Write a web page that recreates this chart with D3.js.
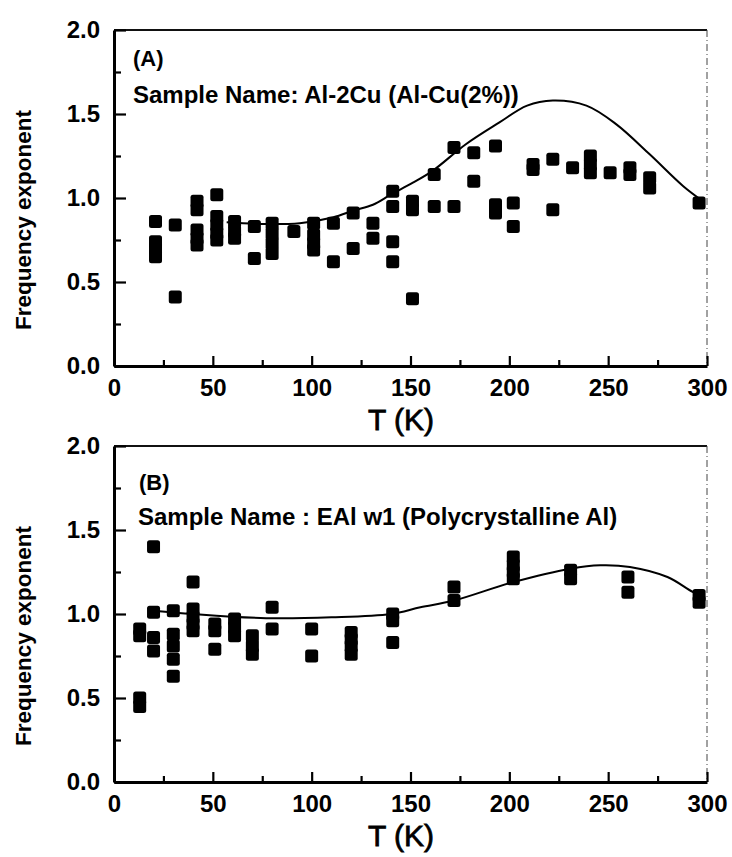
<!DOCTYPE html>
<html>
<head>
<meta charset="utf-8">
<script src="https://cdn.jsdelivr.net/npm/d3@7/dist/d3.min.js"></script>
<style>
  html, body { margin: 0; padding: 0; background: #fff; }
  svg { display: block; }
  text { font-family: "Liberation Sans", Arial, sans-serif; fill: #000; }
</style>
</head>
<body>
<svg id="chart" width="732" height="857"></svg>
<script>
// ---- Panel A: Al-2Cu ----
const tempA = [21,21,21,21, 31,31, 42,42,42,42,42, 52,52,52,52,52, 61,61,61, 71,71,
  80,80,80,80, 91, 101,101,101,101, 111,111, 121,121, 131,131, 141,141,141,141,
  151,151,151, 162,162, 172,172, 182,182, 193,193,193, 202,202, 212,212, 222,222,
  232, 241,241,241, 251, 261,261, 271,271, 296];
const expA = [0.86,0.74,0.70,0.65, 0.84,0.41, 0.98,0.93,0.81,0.76,0.72, 1.02,0.89,0.84,0.79,0.75,
  0.86,0.80,0.76, 0.83,0.64, 0.85,0.79,0.73,0.67, 0.80, 0.85,0.78,0.73,0.69, 0.85,0.62,
  0.91,0.70, 0.85,0.76, 1.04,0.95,0.74,0.62, 0.98,0.93,0.40, 1.14,0.95, 1.30,0.95,
  1.27,1.10, 1.31,0.96,0.91, 0.97,0.83, 1.20,1.17, 1.23,0.93, 1.18, 1.25,1.20,1.15,
  1.15, 1.18,1.14, 1.12,1.06, 0.97];
const fitTempA = [57, 75, 94, 111, 121, 131, 140, 151, 161, 178, 195, 209, 222, 239, 254, 271, 288, 298];
const fitExpA  = [0.855, 0.845, 0.85, 0.885, 0.925, 0.96, 1.02, 1.09, 1.16, 1.32, 1.45, 1.55, 1.58, 1.55, 1.44, 1.26, 1.07, 0.98];

// ---- Panel B: EAl w1 ----
const tempB = [13,13,13,13, 20,20,20,20, 30,30,30,30,30, 40,40,40,40,40, 51,51,51,
  61,61,61, 70,70,70, 80,80, 100,100, 120,120,120,120, 141,141,141,
  172,172, 202,202,202,202, 231,231, 260,260, 296,296];
const expB = [0.91,0.87,0.50,0.45, 1.40,1.01,0.86,0.78, 1.02,0.88,0.81,0.73,0.63,
  1.19,1.03,0.98,0.94,0.90, 0.94,0.90,0.79, 0.97,0.92,0.87, 0.87,0.81,0.76,
  1.04,0.91, 0.91,0.75, 0.89,0.85,0.81,0.76, 1.00,0.96,0.83,
  1.16,1.08, 1.34,1.29,1.25,1.21, 1.26,1.21, 1.22,1.13, 1.11,1.07];
const fitTempB = [20, 40, 77, 110, 140, 155, 172, 202, 231, 246, 261, 280, 293, 299];
const fitExpB  = [1.02, 1.00, 0.975, 0.98, 1.00, 1.04, 1.08, 1.19, 1.27, 1.29, 1.28, 1.22, 1.13, 1.10];

// ---- Axis ticks and labels ----
const xMajor = [0, 50, 100, 150, 200, 250, 300];
const xMinor = [25, 75, 125, 175, 225, 275];
const yMajor = [0.0, 0.5, 1.0, 1.5, 2.0];
const yMinor = [0.25, 0.75, 1.25, 1.75];
const xTitle = "T (K)";
const yTitle = "Frequency exponent";
const panelTags = ["(A)", "(B)"];
const sampleNames = ["Sample Name: Al-2Cu (Al-Cu(2%))", "Sample Name : EAl w1 (Polycrystalline Al)"];

const svg = d3.select("#chart");
const left = 114, right = 707;

const panels = [
  { top: 30, bottom: 366, T: tempA, V: expA, fT: fitTempA, fV: fitExpA,
    tag: panelTags[0], name: sampleNames[0], tagPos: [133, 66], namePos: [133, 103] },
  { top: 446, bottom: 782, T: tempB, V: expB, fT: fitTempB, fV: fitExpB,
    tag: panelTags[1], name: sampleNames[1], tagPos: [139, 490], namePos: [138, 525] }
];

panels.forEach(p => {
  const x = d3.scaleLinear().domain([0, 300]).range([left, right]);
  const y = d3.scaleLinear().domain([0, 2]).range([p.bottom, p.top]);
  const g = svg.append("g");

  // frame: top edge solid, right edge faint dash-dot
  g.append("line").attr("x1", left).attr("x2", right).attr("y1", p.top).attr("y2", p.top)
    .attr("stroke", "#111").attr("stroke-width", 2);
  g.append("line").attr("x1", right).attr("x2", right).attr("y1", p.top).attr("y2", p.bottom)
    .attr("stroke", "#444").attr("stroke-width", 1).attr("stroke-dasharray", "7,3,1,3");

  // bottom axis (ticks pointing inward)
  const xa = g.append("g").attr("transform", `translate(0,${p.bottom})`)
    .call(d3.axisBottom(x).tickValues(xMajor).tickSize(-10).tickSizeOuter(0).tickPadding(13)
      .tickFormat(d3.format("d")));
  g.append("g").attr("transform", `translate(0,${p.bottom})`)
    .call(d3.axisBottom(x).tickValues(xMinor).tickSize(-6).tickSizeOuter(0).tickFormat(""))
    .call(s => s.select(".domain").remove());

  // left axis
  const ya = g.append("g").attr("transform", `translate(${left},0)`)
    .call(d3.axisLeft(y).tickValues(yMajor).tickSize(-12).tickSizeOuter(0).tickPadding(14)
      .tickFormat(d3.format(".1f")));
  g.append("g").attr("transform", `translate(${left},0)`)
    .call(d3.axisLeft(y).tickValues(yMinor).tickSize(-7).tickSizeOuter(0).tickFormat(""))
    .call(s => s.select(".domain").remove());

  g.selectAll(".domain").attr("stroke", "#000").attr("stroke-width", 3);
  g.selectAll(".tick line").attr("stroke", "#000").attr("stroke-width", 2.2);
  [xa, ya].forEach(a => a.selectAll("text")
    .attr("font-size", 24).attr("font-weight", "bold").attr("fill", "#000")
    .style("font-family", '"Liberation Sans", Arial, sans-serif'));

  // axis titles
  g.append("text").attr("x", 401).attr("y", p.bottom + 64)
    .attr("text-anchor", "middle").attr("font-size", 30)
    .attr("stroke", "#000").attr("stroke-width", 0.8)
    .text(xTitle);
  g.append("text")
    .attr("transform", `translate(31,${(p.top + p.bottom) / 2 + 22}) rotate(-90)`)
    .attr("text-anchor", "middle").attr("font-size", 22.5).attr("font-weight", "bold")
    .text(yTitle);

  // panel annotations
  g.append("text").attr("x", p.tagPos[0]).attr("y", p.tagPos[1])
    .attr("font-size", 22).attr("font-weight", "bold").text(p.tag);
  g.append("text").attr("x", p.namePos[0]).attr("y", p.namePos[1])
    .attr("font-size", 24).attr("font-weight", "bold").text(p.name);

  // fitted curve
  const fit = p.fT.map((t, i) => [t, p.fV[i]]);
  g.append("path").datum(fit)
    .attr("fill", "none").attr("stroke", "#000").attr("stroke-width", 2)
    .attr("d", d3.line().x(d => x(d[0])).y(d => y(d[1])).curve(d3.curveCatmullRom.alpha(0.5)));

  // measured points (filled squares)
  const pts = p.T.map((t, i) => [t, p.V[i]]);
  const s = 13;
  g.selectAll("rect.pt").data(pts).join("rect").attr("class", "pt")
    .attr("x", d => x(d[0]) - s / 2).attr("y", d => y(d[1]) - s / 2)
    .attr("width", s).attr("height", s).attr("rx", 2.5)
    .attr("fill", "#000");
});
</script>
</body>
</html>
